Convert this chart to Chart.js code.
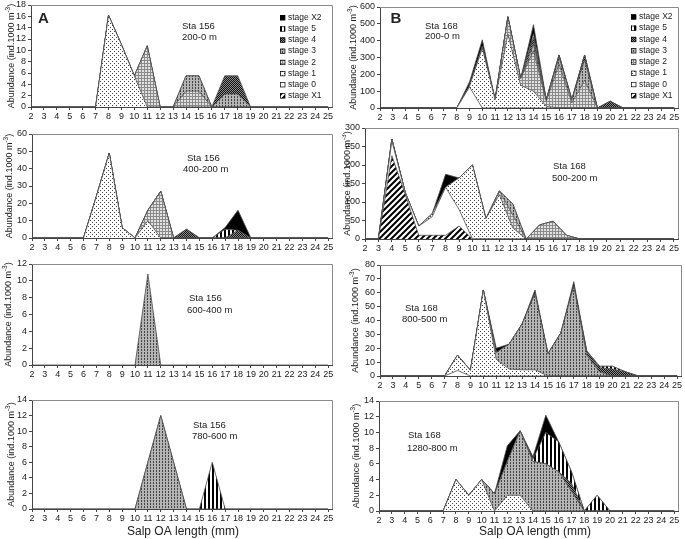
<!DOCTYPE html>
<html lang="en">
<head>
  <meta charset="UTF-8" />
  <title>Salp OA length by stage</title>
  <script src="https://cdn.jsdelivr.net/npm/chart.js"></script>
  <style>
    body { margin: 0; background: #fff; }
    #page { position: relative; width: 685px; height: 539px; overflow: hidden; }
    #page canvas { position: absolute; }
  </style>
</head>
<body>
  <div id="page"></div>

  <script>
    // x categories: salp OA length (mm)
    const lengths = [2,3,4,5,6,7,8,9,10,11,12,13,14,15,16,17,18,19,20,21,22,23,24,25];
    // stack order bottom -> top
    const stages = ['stage X1','stage 0','stage 1','stage 2','stage 3','stage 4','stage 5','stage X2'];

    // Sta 156, 200-0 m
    const a1S1 = [0,0,0,0,0,0,16.2,11,5.5,0,0,0,0,0,0,0,0,0,0,0,0,0,0,0];
    const a1S2 = [0,0,0,0,0,0,0,0,0,10.8,0,0,2.8,2.8,0,0,0,0,0,0,0,0,0,0];
    const a1S3 = [0,0,0,0,0,0,0,0,0,0,0,0,2.7,2.7,0,2.3,2.3,0,0,0,0,0,0,0];
    const a1S4 = [0,0,0,0,0,0,0,0,0,0,0,0,0,0,0,3.2,3.2,0,0,0,0,0,0,0];
    // Sta 156, 400-200 m
    const a2S1 = [0,0,0,0,0,24,49,6,0,10,0,0,0,0,0,0,0,0,0,0,0,0,0,0];
    const a2S2 = [0,0,0,0,0,0,0,0,0,6,27,0,0,0,0,0,0,0,0,0,0,0,0,0];
    const a2S4 = [0,0,0,0,0,0,0,0,0,0,0,0,5,0,0,0,4.5,0,0,0,0,0,0,0];
    const a2S5 = [0,0,0,0,0,0,0,0,0,0,0,0,0,0,0,5,0,0,0,0,0,0,0,0];
    const a2X2 = [0,0,0,0,0,0,0,0,0,0,0,0,0,0,0,1,11.5,0,0,0,0,0,0,0];
    // Sta 156, 600-400 m
    const a3S3 = [0,0,0,0,0,0,0,0,0,10.8,0,0,0,0,0,0,0,0,0,0,0,0,0,0];
    // Sta 156, 780-600 m
    const a4S3 = [0,0,0,0,0,0,0,0,0,6,12,6,0,0,0,0,0,0,0,0,0,0,0,0];
    const a4S5 = [0,0,0,0,0,0,0,0,0,0,0,0,0,0,6,0,0,0,0,0,0,0,0,0];

    // Sta 168, 200-0 m
    const b1S0 = [0,0,0,0,0,0,0,125,0,0,0,0,0,0,0,0,0,0,0,0,0,0,0,0];
    const b1S1 = [0,0,0,0,0,0,0,5,355,50,440,135,100,10,0,0,0,0,0,0,0,0,0,0];
    const b1S2 = [0,0,0,0,0,0,0,0,10,0,100,40,240,30,260,30,165,0,0,0,0,0,0,0];
    const b1S3 = [0,0,0,0,0,0,0,0,0,0,0,0,40,10,40,20,120,0,0,0,0,0,0,0];
    const b1S4 = [0,0,0,0,0,0,0,0,0,0,0,0,40,0,15,0,30,0,40,0,0,0,0,0];
    const b1S5 = [0,0,0,0,0,0,0,0,0,0,0,0,20,0,0,0,0,0,0,0,0,0,0,0];
    const b1X2 = [0,0,0,0,0,0,0,25,40,0,5,0,55,0,0,0,0,0,0,0,0,0,0,0];
    // Sta 168, 500-200 m
    const b2X1 = [0,0,225,120,10,10,10,35,0,0,0,0,0,0,0,0,0,0,0,0,0,0,0,0];
    const b2S0 = [0,0,40,5,25,50,130,45,0,0,0,0,0,0,0,0,0,0,0,0,0,0,0,0];
    const b2S1 = [0,0,5,0,0,8,0,85,200,55,120,30,0,0,0,0,0,0,0,0,0,0,0,0];
    const b2S2 = [0,0,0,0,0,0,0,0,0,0,10,35,0,38,48,10,0,0,0,0,0,0,0,0];
    const b2S3 = [0,0,0,0,0,0,0,0,0,0,0,30,0,0,0,0,0,0,0,0,0,0,0,0];
    const b2X2 = [0,0,0,0,0,0,35,0,0,0,0,0,0,0,0,0,0,0,0,0,0,0,0,0];
    // Sta 168, 800-500 m
    const b3S0 = [0,0,0,0,0,0,4,0,0,0,0,0,0,0,0,0,0,0,0,0,0,0,0,0];
    const b3S1 = [0,0,0,0,0,0,11,4,62,12,5,4.5,4.5,0,0,0,0,0,0,0,0,0,0,0];
    const b3S3 = [0,0,0,0,0,0,0,0,0,5,18,33,55,16,31,65,15,3,0,0,0,0,0,0];
    const b3S4 = [0,0,0,0,0,0,0,0,0,0,0,0,0,0,0,0,3,3,5,3,0,0,0,0];
    const b3S5 = [0,0,0,0,0,0,0,0,0,0,0,0,0,0,0,0,0,1,2,0,0,0,0,0];
    const b3X2 = [0,0,0,0,0,0,0,0,0,3,0,0,2.5,0,0,3,0,0,0,0,0,0,0,0];
    // Sta 168, 1280-800 m
    const b4S1 = [0,0,0,0,0,0,4,2,4,0,2,2,0,0,0,0,0,0,0,0,0,0,0,0];
    const b4S3 = [0,0,0,0,0,0,0,0,0,2.2,4.3,8.2,6.3,6,5,2.5,0,0,0,0,0,0,0,0];
    const b4S4 = [0,0,0,0,0,0,0,0,0,0,0,0,0,0,0,1,0,0,0,0,0,0,0,0];
    const b4S5 = [0,0,0,0,0,0,0,0,0,0,0,0,0.3,4,3.8,1.5,0,2,0,0,0,0,0,0];
    const b4X2 = [0,0,0,0,0,0,0,0,0,0,2,0,0.3,2.2,0,0,0,0,0,0,0,0,0,0];

    Chart.defaults.font.family = "'Liberation Sans', Arial, sans-serif";
    Chart.defaults.color = '#222';
    const tickFont = { family: "'Liberation Sans Narrow', 'Arial Narrow', 'Liberation Sans', sans-serif", size: 9 };

    // fill patterns, one per stage
    function makePattern(w, h, draw) {
      const c = document.createElement('canvas');
      c.width = w; c.height = h;
      const g = c.getContext('2d');
      draw(g);
      return g.createPattern(c, 'repeat');
    }
    const patterns = [
      makePattern(6, 6, g => {            // X1 diagonal
        g.fillStyle = '#fff'; g.fillRect(0, 0, 6, 6);
        g.strokeStyle = '#000'; g.lineWidth = 2;
        g.beginPath();
        g.moveTo(-1, 7); g.lineTo(7, -1);
        g.moveTo(-4, 4); g.lineTo(4, -4);
        g.moveTo(2, 10); g.lineTo(10, 2);
        g.stroke();
      }),
      '#ffffff',                           // stage 0
      makePattern(4, 4, g => {            // stage 1 dots
        g.fillStyle = '#fff'; g.fillRect(0, 0, 4, 4);
        g.fillStyle = '#444'; g.fillRect(0, 0, 1, 1); g.fillRect(2, 2, 1, 1);
      }),
      makePattern(3, 3, g => {            // stage 2 light grid
        g.fillStyle = '#e2e2e2'; g.fillRect(0, 0, 3, 3);
        g.fillStyle = '#8a8a8a'; g.fillRect(0, 0, 1, 3); g.fillRect(0, 0, 3, 1);
      }),
      makePattern(3, 3, g => {            // stage 3 medium
        g.fillStyle = '#b4b4b4'; g.fillRect(0, 0, 3, 3);
        g.fillStyle = '#444'; g.fillRect(0, 0, 1, 2);
      }),
      makePattern(2, 2, g => {            // stage 4 dark checker
        g.fillStyle = '#8c8c8c'; g.fillRect(0, 0, 2, 2);
        g.fillStyle = '#111'; g.fillRect(0, 0, 1, 1); g.fillRect(1, 1, 1, 1);
      }),
      makePattern(4, 1, g => {            // stage 5 vertical stripes
        g.fillStyle = '#fff'; g.fillRect(0, 0, 4, 1);
        g.fillStyle = '#000'; g.fillRect(0, 0, 2, 1);
      }),
      '#000000'                            // X2
    ];

    const cols = [{ cl: 0, cw: 342 }, { cl: 342, cw: 343 }];

    const panels = [
      { col: 0, box: [31, 5, 332, 107], yMax: 18, yStep: 2,
        series: [[2, a1S1], [3, a1S2], [4, a1S3], [5, a1S4]],
        note: [['Sta 156', 182, 26], ['200-0 m', 182, 37.5]], letter: ['A', 43.5, 18.5],
        legend: [280, 288, 17.6, 11.15], yTitleX: 12 },
      { col: 0, box: [32, 134, 332, 238], yMax: 60, yStep: 10,
        series: [[2, a2S1], [3, a2S2], [5, a2S4], [6, a2S5], [7, a2X2]],
        note: [['Sta 156', 187, 158.5], ['400-200 m', 183, 169.5]], yTitleX: 10 },
      { col: 0, box: [32, 264, 332, 365], yMax: 12, yStep: 2,
        series: [[4, a3S3]],
        note: [['Sta 156', 189, 298.5], ['600-400 m', 187, 310]], yTitleX: 9 },
      { col: 0, box: [32, 400, 332, 509], yMax: 14, yStep: 2,
        series: [[4, a4S3], [6, a4S5]],
        note: [['Sta 156', 193, 425.5], ['780-600 m', 192, 436.5]], yTitleX: 12,
        xTitle: [183, 532] },
      { col: 1, box: [380, 7, 678, 108], yMax: 600, yStep: 100,
        series: [[1, b1S0], [2, b1S1], [3, b1S2], [4, b1S3], [5, b1S4], [6, b1S5], [7, b1X2]],
        note: [['Sta 168', 425, 26], ['200-0 m', 425, 36.5]], letter: ['B', 396, 18.5],
        legend: [631, 639, 16.8, 11.25], yTitleX: 354 },
      { col: 1, box: [365, 128, 678, 239], yMax: 300, yStep: 50,
        series: [[0, b2X1], [1, b2S0], [2, b2S1], [3, b2S2], [4, b2S3], [7, b2X2]],
        note: [['Sta 168', 553, 166.5], ['500-200 m', 552, 178.5]], yTitleX: 348 },
      { col: 1, box: [380, 265, 681, 376], yMax: 80, yStep: 10,
        series: [[1, b3S0], [2, b3S1], [4, b3S3], [5, b3S4], [6, b3S5], [7, b3X2]],
        note: [['Sta 168', 405, 308.5], ['800-500 m', 402, 319.5]], yTitleX: 356 },
      { col: 1, box: [379, 401, 678, 511], yMax: 14, yStep: 2,
        series: [[2, b4S1], [4, b4S3], [5, b4S4], [6, b4S5], [7, b4X2]],
        note: [['Sta 168', 408, 435], ['1280-800 m', 407, 448.5]], yTitleX: 357,
        xTitle: [535, 532] }
    ];

    const page = document.getElementById('page');
    const X_AXIS_H = 14;

    function decorPlugin(p, cl, ct) {
      return {
        id: 'decor',
        afterDraw(chart) {
          const ctx = chart.ctx;
          const a = chart.chartArea;
          ctx.save();
          // grey frame top/right
          ctx.strokeStyle = '#8a8a8a';
          ctx.lineWidth = 1;
          ctx.beginPath();
          ctx.moveTo(a.left, Math.round(a.top) + 0.5);
          ctx.lineTo(Math.round(a.right) + 0.5, Math.round(a.top) + 0.5);
          ctx.lineTo(Math.round(a.right) + 0.5, a.bottom);
          ctx.stroke();

          ctx.fillStyle = '#222';
          ctx.textBaseline = 'middle';
          ctx.textAlign = 'left';
          ctx.font = "9.5px 'Liberation Sans', Arial, sans-serif";
          p.note.forEach(([t, x, y]) => ctx.fillText(t, x - cl, y - ct));

          if (p.letter) {
            ctx.font = "bold 15px 'Liberation Sans', Arial, sans-serif";
            ctx.textAlign = 'center';
            ctx.fillText(p.letter[0], p.letter[1] - cl, p.letter[2] - ct);
          }

          if (p.legend) {
            const [sx, tx, y0, dy] = p.legend;
            ctx.font = "8.5px 'Liberation Sans', Arial, sans-serif";
            ctx.textAlign = 'left';
            for (let i = 0; i < stages.length; i++) {
              const s = stages.length - 1 - i;
              const y = y0 + i * dy - ct;
              ctx.fillStyle = patterns[s];
              ctx.fillRect(sx - cl, y - 2.5, 5, 5);
              ctx.strokeStyle = '#000';
              ctx.lineWidth = 0.7;
              ctx.strokeRect(sx - cl + 0.5, y - 2, 4.5, 4.5);
              ctx.fillStyle = '#222';
              ctx.fillText(stages[s], tx - cl, y);
            }
          }

          // y axis title with superscript
          const yc = (a.top + a.bottom) / 2;
          ctx.translate(p.yTitleX - cl, yc);
          ctx.rotate(-Math.PI / 2);
          const mainFont = "9px 'Liberation Sans', Arial, sans-serif";
          const supFont = "6.5px 'Liberation Sans', Arial, sans-serif";
          const t1 = 'Abundance (ind.1000 m', t2 = '-3', t3 = ')';
          ctx.font = mainFont;
          const w1 = ctx.measureText(t1).width, w3 = ctx.measureText(t3).width;
          ctx.font = supFont;
          const w2 = ctx.measureText(t2).width;
          let x = -(w1 + w2 + w3) / 2;
          ctx.fillStyle = '#222';
          ctx.textAlign = 'left';
          ctx.font = mainFont; ctx.fillText(t1, x, 0); x += w1;
          ctx.font = supFont; ctx.fillText(t2, x, -3.5); x += w2;
          ctx.font = mainFont; ctx.fillText(t3, x, 0);
          ctx.restore();

          if (p.xTitle) {
            ctx.save();
            ctx.fillStyle = '#222';
            ctx.font = "12px 'Liberation Sans', Arial, sans-serif";
            ctx.textAlign = 'center';
            ctx.textBaseline = 'middle';
            ctx.fillText('Salp OA length (mm)', p.xTitle[0] - cl, p.xTitle[1] - ct);
            ctx.restore();
          }
        }
      };
    }

    panels.forEach(p => {
      const { cl, cw } = cols[p.col];
      const [L, T, R, B] = p.box;
      const padB = p.xTitle ? 24 : 0;
      const ct = T - 8;
      const h = (B - T) + 8 + X_AXIS_H + padB;

      const canvas = document.createElement('canvas');
      canvas.width = cw; canvas.height = h;
      canvas.style.left = cl + 'px';
      canvas.style.top = ct + 'px';
      page.appendChild(canvas);

      const datasets = p.series.map(([stage, arr], k) => ({
        label: stages[stage],
        data: lengths.map((x, i) => ({ x, y: arr[i] })),
        fill: k === 0 ? 'origin' : '-1',
        backgroundColor: patterns[stage],
        borderColor: '#4a4a4a',
        borderWidth: 0.8,
        pointRadius: 0,
        tension: 0
      }));

      new Chart(canvas.getContext('2d'), {
        type: 'line',
        data: { datasets },
        options: {
          responsive: false,
          animation: false,
          devicePixelRatio: 1,
          layout: { padding: { top: 8, left: 0, right: cl + cw - R, bottom: padB } },
          plugins: { legend: { display: false }, tooltip: { enabled: false } },
          scales: {
            x: {
              type: 'linear', min: 2, max: 25.3,
              afterBuildTicks: s => { s.ticks = lengths.map(v => ({ value: v })); },
              afterFit: s => { s.height = X_AXIS_H; s.paddingLeft = 0; s.paddingRight = 0; },
              ticks: { font: tickFont, padding: 1, maxRotation: 0, autoSkip: false },
              grid: { drawOnChartArea: false, tickLength: 3, color: '#444' },
              border: { color: '#444' }
            },
            y: {
              stacked: true, min: 0, max: p.yMax,
              afterFit: s => { s.width = L - cl; s.paddingTop = 0; s.paddingBottom = 0; },
              ticks: { stepSize: p.yStep, font: tickFont, padding: 2, autoSkip: false },
              grid: { drawOnChartArea: false, tickLength: 3, color: '#444' },
              border: { color: '#444' }
            }
          }
        },
        plugins: [decorPlugin(p, cl, ct)]
      });
    });
  </script>
</body>
</html>
